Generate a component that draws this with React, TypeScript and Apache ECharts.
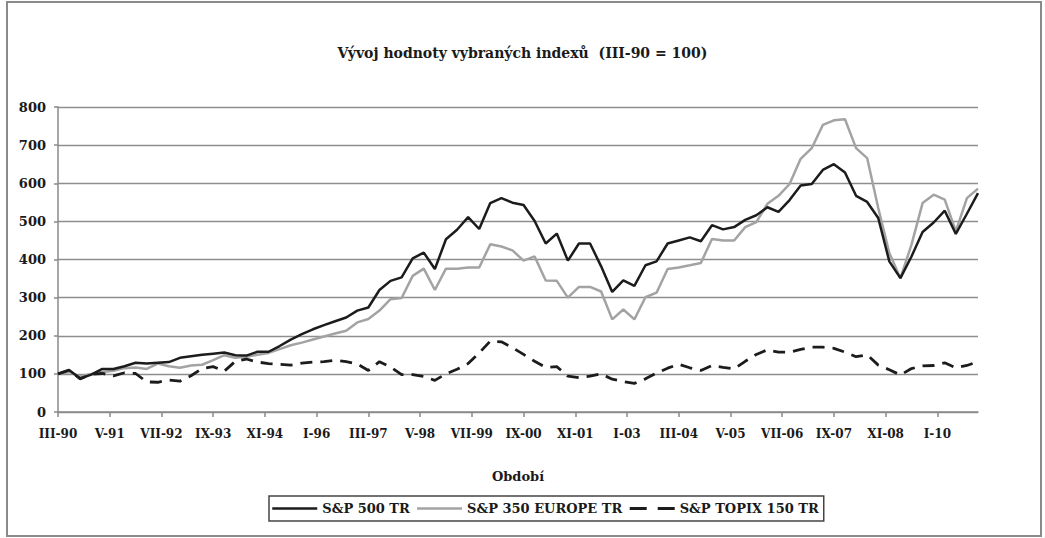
import React, { useEffect, useRef } from "react";
import * as echarts from "echarts";

// Axis tick labels (every 14 months starting III-90)
const tickLabels = ["III-90", "V-91", "VII-92", "IX-93", "XI-94", "I-96", "III-97", "V-98", "VII-99", "IX-00", "XI-01", "I-03", "III-04", "V-05", "VII-06", "IX-07", "XI-08", "I-10"];
const tickStepMonths = 14;
// Quarterly observations from III-90 to XII-10
const periodStepMonths = 3;
const lastMonth = 249;

const seriesNames = ["S&P 500 TR", "S&P 350 EUROPE TR", "S&P TOPIX 150 TR"];
const sp500 = [100, 110, 88, 98, 113, 113, 120, 129, 127, 129, 131, 142, 146, 150, 153, 156, 149, 148, 158, 158, 173, 190, 204, 217, 228, 238, 248, 266, 274, 320, 344, 353, 403, 418, 375, 453, 478, 511, 480, 548, 561, 549, 543, 501, 442, 468, 397, 442, 442, 382, 315, 345, 331, 385, 395, 442, 450, 458, 448, 490, 479, 485, 504, 516, 537, 525, 556, 594, 598, 635, 650, 628, 567, 551, 509, 395, 351, 408, 472, 497, 528, 467, 520, 574];
const europe350 = [100, 105, 93, 100, 105, 108, 115, 117, 113, 127, 120, 116, 122, 124, 136, 149, 142, 145, 150, 155, 165, 175, 182, 190, 198, 206, 213, 235, 244, 266, 296, 299, 357, 376, 320, 376, 376, 379, 379, 440, 434, 424, 397, 408, 345, 344, 300, 328, 328, 316, 243, 269, 243, 301, 313, 375, 379, 385, 391, 454, 450, 450, 485, 498, 546, 567, 598, 664, 692, 753, 765, 768, 692, 666, 535, 417, 351, 439, 548, 570, 557, 474, 561, 586];
const topix150 = [100, 110, 87, 99, 101, 95, 103, 101, 79, 78, 84, 81, 95, 114, 119, 107, 133, 139, 131, 127, 125, 123, 128, 131, 132, 136, 132, 126, 109, 132, 118, 98, 98, 93, 83, 100, 112, 127, 155, 186, 184, 169, 151, 133, 117, 119, 94, 90, 94, 100, 86, 80, 75, 87, 102, 115, 125, 116, 109, 122, 117, 113, 133, 151, 163, 157, 157, 164, 170, 170, 167, 157, 145, 150, 123, 111, 97, 114, 121, 122, 129, 116, 122, 132];

const FONT = "DejaVu Serif";
const TXT = "#1a1a1a";

export default function App() {
  const ref = useRef<HTMLDivElement>(null);
  useEffect(() => {
    if (!ref.current) return;
    const chart = echarts.init(ref.current, undefined, { renderer: "svg" });
    const tickValues = tickLabels.map((_, i) => i * tickStepMonths);
    const toPoints = (arr: number[]) => arr.map((v, i) => [i * periodStepMonths, v]);
    chart.setOption({
      animation: false,
      backgroundColor: "#ffffff",
      title: {
        text: "Vývoj hodnoty vybraných indexů  (III-90 = 100)",
        left: "center",
        top: 41,
        textStyle: { fontFamily: FONT, fontWeight: "bold", fontSize: 14, color: TXT },
      },
      graphic: [
        {
          type: "rect",
          shape: { x: 7, y: 2, width: 1034, height: 534 },
          style: { fill: "none", stroke: "#8a8a8a", lineWidth: 2 },
          silent: true,
        },
      ],
      legend: {
        left: 269,
        top: 496,
        padding: [6, 5, 6, 2],
        itemGap: 6,
        itemWidth: 45,
        itemHeight: 10,
        borderColor: "#444",
        borderWidth: 1.5,
        borderRadius: 0,
        itemStyle: { opacity: 0, borderWidth: 0 },
        lineStyle: { width: 2.5 },
        textStyle: { fontFamily: FONT, fontWeight: "bold", fontSize: 13, color: TXT },
        data: [
          { name: seriesNames[0] },
          { name: seriesNames[1] },
          { name: seriesNames[2], lineStyle: { type: [17, 11], width: 3 } },
        ],
      },
      grid: { left: 58, right: 67, top: 107, bottom: 126, containLabel: false },
      xAxis: {
        type: "value",
        min: 0,
        max: lastMonth,
        name: "Období",
        nameLocation: "middle",
        nameGap: 58,
        nameTextStyle: { fontFamily: FONT, fontWeight: "bold", fontSize: 13, color: TXT },
        axisLine: { show: true, lineStyle: { color: "#8a8a8a", width: 1.5 } },
        axisTick: { show: true, length: 5, customValues: tickValues, lineStyle: { color: "#8a8a8a", width: 1.5 } },
        axisLabel: {
          customValues: tickValues,
          margin: 16,
          fontFamily: FONT,
          fontWeight: "bold",
          fontSize: 12,
          color: TXT,
          formatter: (v: number) => tickLabels[Math.round(v / tickStepMonths)] ?? "",
        },
        splitLine: { show: false },
      },
      yAxis: {
        type: "value",
        min: 0,
        max: 800,
        interval: 100,
        axisLine: { show: true, lineStyle: { color: "#8a8a8a", width: 1.5 } },
        axisTick: { show: true, length: 4, lineStyle: { color: "#8a8a8a", width: 1.5 } },
        axisLabel: { margin: 12, fontFamily: FONT, fontWeight: "bold", fontSize: 13, color: TXT },
        splitLine: { show: true, lineStyle: { color: "#8e8e8e", width: 1.3 } },
      },
      series: [
        {
          name: seriesNames[0],
          type: "line",
          data: toPoints(sp500),
          showSymbol: false,
          symbol: "none",
          lineStyle: { color: "#1c1c1c", width: 2.5 },
          itemStyle: { color: "#1c1c1c" },
          z: 3,
        },
        {
          name: seriesNames[1],
          type: "line",
          data: toPoints(europe350),
          showSymbol: false,
          symbol: "none",
          lineStyle: { color: "#a3a3a3", width: 2.5 },
          itemStyle: { color: "#a3a3a3" },
          z: 2,
        },
        {
          name: seriesNames[2],
          type: "line",
          data: toPoints(topix150),
          showSymbol: false,
          symbol: "none",
          lineStyle: { color: "#1c1c1c", width: 2.8, type: [12, 8] },
          itemStyle: { color: "#1c1c1c" },
          z: 4,
        },
      ],
    });
    return () => chart.dispose();
  }, []);
  return (
    <div
      ref={ref}
      style={{ position: "fixed", left: 0, top: 0, width: 1045, height: 538, background: "#fff" }}
    />
  );
}
